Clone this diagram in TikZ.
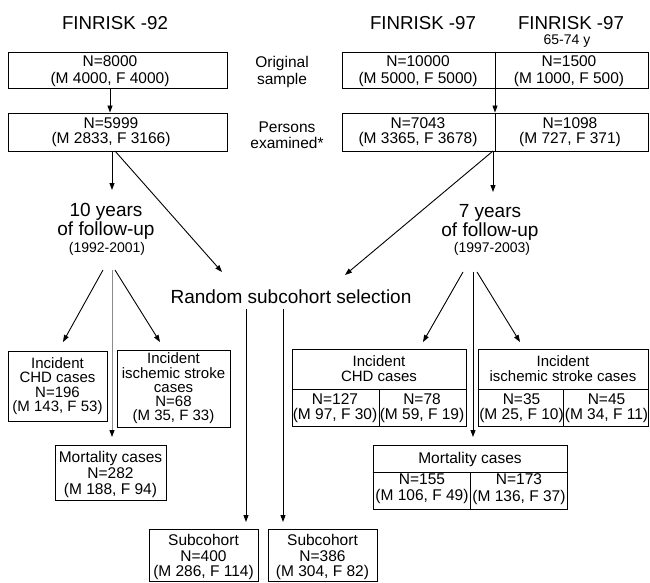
\documentclass[tikz,border=0pt]{standalone}
\usepackage{fontspec}
\setmainfont{Liberation Sans}
\usetikzlibrary{arrows.meta}
\begin{document}
\begin{tikzpicture}[x=1pt,y=-1pt,
  box/.style={draw, line width=1pt, inner sep=0pt},
  txt/.style={inner sep=0pt, align=center, font=\fontsize{15.5}{#1}\selectfont},
  txt/.default=14,
  ctxt/.style={inner sep=0pt, align=center, font=\fontsize{15}{#1}\selectfont},
  ttl/.style={inner sep=0pt, font=\fontsize{18.7}{20}\selectfont},
  big/.style={inner sep=0pt, align=center, font=\fontsize{19}{19}\selectfont},
  small/.style={inner sep=0pt, font=\fontsize{14}{15}\selectfont},
  arr/.style={line width=0.9pt, -{Triangle[length=7pt,width=5pt]}},
  garr/.style={line width=0.9pt, draw=black!45, -{Triangle[length=7pt,width=5pt,color=black]}},
  ln/.style={line width=0.8pt}]
\useasboundingbox (0,0) rectangle (650,582);

% titles
\node[ttl] (t92) at (115,23) {FINRISK -92};
\node[ttl] (t97) at (423,23) {FINRISK -97};
\node[ttl] (t97b) at (571,23) {FINRISK -97};
\node[small] (age) at (567,41) {65-74 y};

% row 1
\node[box, minimum width=219pt, minimum height=36pt] (a1) at (117.5,70) {};
\node[txt=17] (a1t) at (110,71.5) {N=8000\\(M 4000, F 4000)};
\node[txt=17] (orig) at (282,71.5) {Original\\sample};
\node[box, minimum width=306pt, minimum height=36pt] (b1) at (495,70) {};
\draw[ln] (b1.north) -- (b1.south);
\node[txt=17] (b1l) at (418,71.5) {N=10000\\(M 5000, F 5000)};
\node[txt=17] (b1r) at (569,71.5) {N=1500\\(M 1000, F 500)};

% row 2
\node[box, minimum width=219pt, minimum height=38pt] (a2) at (117.5,132) {};
\node[txt=15] (a2t) at (111,132.5) {N=5999\\(M 2833, F 3166)};
\node[txt=16] (pers) at (287,135) {Persons\\examined*};
\node[box, minimum width=306pt, minimum height=38pt] (b2) at (495,132) {};
\draw[ln] (b2.north) -- (b2.south);
\node[txt=15] (b2l) at (418,132.5) {N=7043\\(M 3365, F 3678)};
\node[txt=15] (b2r) at (570,132.5) {N=1098\\(M 727, F 371)};

\draw[arr] (a1.south -| a1t) -- (a2.north -| a1t);
\draw[arr] (b1.south) -- (b2.north);

% follow-up labels
\node[big] (fu1) at (106,221.5) {10 years\\of follow-up};
\node[small] (fu1y) at (107,249) {(1992-2001)};
\node[big] (fu2) at (490,222.5) {7 years\\of follow-up};
\node[small] (fu2y) at (492,249) {(1997-2003)};
\node[big] (rand) at (291,297) {Random subcohort selection};

\coordinate (a2s) at (112,151);
\coordinate (a2d) at (115,151);
\coordinate (fu1top) at (112,190);
\coordinate (randl) at (222,272);
\coordinate (b2s) at (493,151);
\coordinate (fu2top) at (493,192);
\coordinate (randr) at (345,275);
\draw[arr] (a2s) -- (fu1top);
\draw[arr] (a2d) -- (randl);
\draw[arr] (b2s) -- (fu2top);
\draw[arr] (b2s) -- (randr);

% left cases
\node[box, minimum width=99pt, minimum height=70pt] (c1) at (57.5,386) {};
\node[ctxt=14.5] (c1t) at (57.5,386) {Incident\\CHD cases\\N=196\\(M 143, F 53)};
\node[box, minimum width=113pt, minimum height=77pt] (c2) at (173.5,388.5) {};
\node[ctxt=14.2] (c2t) at (173.5,388.5) {Incident\\ischemic stroke\\cases\\N=68\\(M 35, F 33)};
\node[box, minimum width=111pt, minimum height=55pt] (m1) at (110.5,472.5) {};
\node[txt=16] (m1t) at (110.5,474) {Mortality cases\\N=282\\(M 188, F 94)};

\coordinate (f1l) at (103,270);
\coordinate (f1m) at (112,270);
\coordinate (f1r) at (115,270);
\coordinate (c1in) at (63,342);
\coordinate (c2in) at (160,342);
\coordinate (m1in) at (112,437);
\draw[arr] (f1l) -- (c1in);
\draw[garr] (f1m) -- (m1in);
\draw[arr] (f1r) -- (c2in);

% right cases
\coordinate (hd) at (0,389);
\node[box, minimum width=174pt, minimum height=77pt] (d1) at (379,387.5) {};
\draw[ln] (d1.west |- hd) -- (d1.east |- hd);
\draw[ln] (d1.center |- hd) -- (d1.south);
\node[ctxt=15] (d1h) at (379,369) {Incident\\CHD cases};
\node[txt=15] (d1l) at (335,408) {N=127\\(M 97, F 30)};
\node[txt=15] (d1r) at (422,408) {N=78\\(M 59, F 19)};

\node[box, minimum width=170pt, minimum height=77pt] (d2) at (563,387.5) {};
\draw[ln] (d2.west |- hd) -- (d2.east |- hd);
\draw[ln] (d2.center |- hd) -- (d2.south);
\node[ctxt=15] (d2h) at (563,369) {Incident\\ischemic stroke cases};
\node[txt=15] (d2l) at (521.5,408) {N=35\\(M 25, F 10)};
\node[txt=15] (d2r) at (606.5,408) {N=45\\(M 34, F 11)};

\coordinate (hm) at (0,472);
\node[box, minimum width=194pt, minimum height=64pt] (m2) at (470,477) {};
\draw[ln] (m2.west |- hm) -- (m2.east |- hm);
\draw[ln] (m2.center |- hm) -- (m2.south);
\node[txt=14] (m2h) at (470,459) {Mortality cases};
\node[txt=16.5] (m2l) at (422,489) {N=155\\(M 106, F 49)};
\node[txt=16.5] (m2r) at (519,489) {N=173\\(M 136, F 37)};

\coordinate (f2l) at (463,272);
\coordinate (f2m) at (473,272);
\coordinate (f2r) at (477,272);
\coordinate (d1in) at (423,342);
\coordinate (d2in) at (520,342);
\coordinate (m2in) at (473,437);
\draw[arr] (f2l) -- (d1in);
\draw[arr] (f2m) -- (m2in);
\draw[arr] (f2r) -- (d2in);

% subcohorts
\node[box, minimum width=109pt, minimum height=52pt] (s1) at (203.5,555) {};
\node[txt=15.5] (s1t) at (203.5,557) {Subcohort\\N=400\\(M 286, F 114)};
\node[box, minimum width=109pt, minimum height=52pt] (s2) at (322.5,555) {};
\node[txt=15.5] (s2t) at (322.5,557) {Subcohort\\N=386\\(M 304, F 82)};
\coordinate (r1) at (246,309);
\coordinate (r2) at (283,309);
\coordinate (s1in) at (246,522);
\coordinate (s2in) at (283,522);
\draw[arr] (r1) -- (s1in);
\draw[arr] (r2) -- (s2in);
\end{tikzpicture}
\end{document}
